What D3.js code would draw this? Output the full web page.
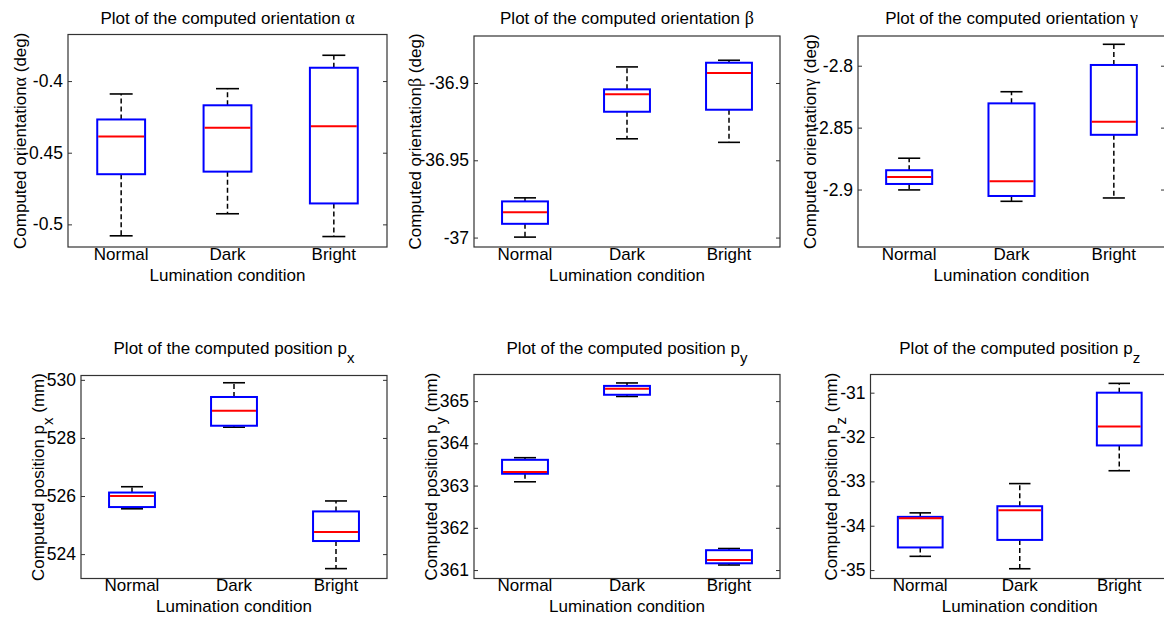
<!DOCTYPE html>
<html><head><meta charset="utf-8">
<script src="https://cdn.jsdelivr.net/npm/d3@7"></script>
<style>body{margin:0;background:#fff}svg{display:block}</style>
</head><body>
<svg id="chart" width="1164" height="617"></svg>
<script>
// ---------- DATA ----------
const categories = ["Normal", "Dark", "Bright"];
const xAxisLabel = "Lumination condition";

// [lower whisker, Q1, median, Q3, upper whisker] for Normal, Dark, Bright
const alphaStats = [[-0.508, -0.465, -0.4386, -0.4268, -0.409],
                    [-0.4926, -0.4632, -0.4326, -0.4169, -0.4053],
                    [-0.5085, -0.4854, -0.4315, -0.3907, -0.382]];
const betaStats  = [[-36.9997, -36.9911, -36.9837, -36.9766, -36.9743],
                    [-36.9361, -36.9186, -36.9073, -36.9041, -36.8896],
                    [-36.9384, -36.9173, -36.8935, -36.8869, -36.8853]];
const gammaStats = [[-2.9003, -2.8955, -2.8898, -2.8844, -2.8747],
                    [-2.9095, -2.9052, -2.8933, -2.8304, -2.821],
                    [-2.9068, -2.8558, -2.8453, -2.7994, -2.7827]];
const pxStats    = [[525.56, 525.62, 526.0, 526.12, 526.32],
                    [528.37, 528.42, 528.94, 529.41, 529.9],
                    [523.5, 524.45, 524.76, 525.47, 525.83]];
const pyStats    = [[363.09, 363.28, 363.32, 363.61, 363.66],
                    [365.11, 365.15, 365.29, 365.36, 365.43],
                    [361.12, 361.16, 361.24, 361.47, 361.51]];
const pzStats    = [[-34.69, -34.49, -33.83, -33.80, -33.71],
                    [-34.97, -34.32, -33.65, -33.56, -33.05],
                    [-32.76, -32.19, -31.76, -31.0, -30.79]];

// y-axis limits
const alphaLimits = [-0.5158, -0.3675];
const betaLimits  = [-37.0061, -36.8696];
const gammaLimits = [-2.9464, -2.776];
const pxLimits    = [523.16, 530.15];
const pyLimits    = [360.80, 365.63];
const pzLimits    = [-35.19, -30.59];

// tick values and labels
const alphaTicks = [-0.5, -0.45, -0.4];
const alphaTickLabels = ["-0.5", "-0.45", "-0.4"];
const betaTicks = [-37, -36.95, -36.9];
const betaTickLabels = ["-37", "-36.95", "-36.9"];
const gammaTicks = [-2.9, -2.85, -2.8];
const gammaTickLabels = ["-2.9", "-2.85", "-2.8"];
const pxTicks = [524, 526, 528, 530];
const pxTickLabels = ["524", "526", "528", "530"];
const pyTicks = [361, 362, 363, 364, 365];
const pyTickLabels = ["361", "362", "363", "364", "365"];
const pzTicks = [-35, -34, -33, -32, -31];
const pzTickLabels = ["-35", "-34", "-33", "-32", "-31"];

// titles / labels as text runs: [text, kind] kind: "n" normal, "g" greek, "s" subscript
const alphaTitle = [["Plot of the computed orientation ", "n"], ["α", "g"]];
const betaTitle  = [["Plot of the computed orientation ", "n"], ["β", "g"]];
const gammaTitle = [["Plot of the computed orientation ", "n"], ["γ", "g"]];
const pxTitle = [["Plot of the computed position p", "n"], ["x", "s"]];
const pyTitle = [["Plot of the computed position p", "n"], ["y", "s"]];
const pzTitle = [["Plot of the computed position p", "n"], ["z", "s"]];
const alphaYLabel = [["Computed orientation", "n"], ["α", "g"], [" (deg)", "n"]];
const betaYLabel  = [["Computed orientation", "n"], ["β", "g"], [" (deg)", "n"]];
const gammaYLabel = [["Computed orientation", "n"], ["γ", "g"], [" (deg)", "n"]];
const pxYLabel = [["Computed position p", "n"], ["x", "s"], [" (mm)", "n"]];
const pyYLabel = [["Computed position p", "n"], ["y", "s"], [" (mm)", "n"]];
const pzYLabel = [["Computed position p", "n"], ["z", "s"], [" (mm)", "n"]];

const panels = [
  {stats: alphaStats, limits: alphaLimits, ticks: alphaTicks, tickLabels: alphaTickLabels, title: alphaTitle, ylabel: alphaYLabel},
  {stats: betaStats, limits: betaLimits, ticks: betaTicks, tickLabels: betaTickLabels, title: betaTitle, ylabel: betaYLabel},
  {stats: gammaStats, limits: gammaLimits, ticks: gammaTicks, tickLabels: gammaTickLabels, title: gammaTitle, ylabel: gammaYLabel},
  {stats: pxStats, limits: pxLimits, ticks: pxTicks, tickLabels: pxTickLabels, title: pxTitle, ylabel: pxYLabel},
  {stats: pyStats, limits: pyLimits, ticks: pyTicks, tickLabels: pyTickLabels, title: pyTitle, ylabel: pyYLabel},
  {stats: pzStats, limits: pzLimits, ticks: pzTicks, tickLabels: pzTickLabels, title: pzTitle, ylabel: pzYLabel}
];

// ---------- LAYOUT ----------
const layout = [
  {left: 68,    top: 34.5, right: 387,  bottom: 247,   titleY: 24,  xTickY: 259.5, xLabY: 281,   yLabX: 26},
  {left: 474,   top: 36,   right: 780,  bottom: 247,   titleY: 24,  xTickY: 259.5, xLabY: 281,   yLabX: 420.5},
  {left: 858,   top: 36,   right: 1165, bottom: 247,   titleY: 24,  xTickY: 259.5, xLabY: 281,   yLabX: 815.5},
  {left: 81,    top: 375.5,right: 387,  bottom: 578.5, titleY: 354, xTickY: 591,   xLabY: 611.5, yLabX: 44},
  {left: 474,   top: 374.5,right: 780,  bottom: 578.5, titleY: 354, xTickY: 591,   xLabY: 611.5, yLabX: 437},
  {left: 870.5, top: 374.5,right: 1169, bottom: 578.5, titleY: 354, xTickY: 591,   xLabY: 611.5, yLabX: 837}
];

const FONT = "'Liberation Sans', Arial, sans-serif";
const GREEK_FONT = "'Liberation Serif', 'DejaVu Serif', serif";
const FS = 17;
const TICK_FS = 17.5;

const svg = d3.select("#chart");

function addRuns(textSel, runs) {
  let shifted = false;
  runs.forEach(([t, kind]) => {
    const ts = textSel.append("tspan").text(t);
    if (kind === "g") ts.attr("font-family", GREEK_FONT).attr("font-size", FS + 1);
    if (kind === "s") { ts.attr("dy", 9).attr("font-size", 15); shifted = true; }
    else if (shifted) { ts.attr("dy", -9); shifted = false; }
  });
}

panels.forEach((p, i) => {
  const L = layout[i];
  const g = svg.append("g");
  const x = d3.scalePoint().domain(categories).range([L.left, L.right]).padding(0.5);
  const y = d3.scaleLinear().domain(p.limits).range([L.bottom, L.top]);
  const step = x.step();
  const bw = step * 0.45;
  const cw = bw * 0.48;

  // left axis ticks & labels
  const axL = d3.axisLeft(y).tickValues(p.ticks)
    .tickFormat((d, k) => p.tickLabels[k]).tickSizeInner(-4).tickSizeOuter(0).tickPadding(5);
  const gl = g.append("g").attr("transform", `translate(${L.left},0)`).call(axL);
  gl.select(".domain").remove();
  gl.selectAll(".tick line").attr("stroke", "#333");
  gl.selectAll(".tick text").attr("font-family", FONT).attr("font-size", TICK_FS).attr("fill", "#000");

  const axR = d3.axisRight(y).tickValues(p.ticks).tickFormat("").tickSizeInner(-4).tickSizeOuter(0);
  const gr = g.append("g").attr("transform", `translate(${L.right},0)`).call(axR);
  gr.select(".domain").remove();
  gr.selectAll(".tick line").attr("stroke", "#333");

  // frame
  g.append("rect").attr("x", L.left).attr("y", L.top)
    .attr("width", L.right - L.left).attr("height", L.bottom - L.top)
    .attr("fill", "none").attr("stroke", "#333").attr("stroke-width", 1.2);

  // boxes
  const bx = g.selectAll(".bx").data(p.stats).join("g").attr("class", "bx");
  const cx = (d, k) => x(categories[k]);
  // whiskers
  bx.append("line").attr("x1", cx).attr("x2", cx)
    .attr("y1", d => y(d[3])).attr("y2", d => y(d[4]))
    .attr("stroke", "#000").attr("stroke-width", 1.5).attr("stroke-dasharray", "5,3");
  bx.append("line").attr("x1", cx).attr("x2", cx)
    .attr("y1", d => y(d[1])).attr("y2", d => y(d[0]))
    .attr("stroke", "#000").attr("stroke-width", 1.5).attr("stroke-dasharray", "5,3");
  // caps
  bx.append("line").attr("x1", (d, k) => cx(d, k) - cw / 2).attr("x2", (d, k) => cx(d, k) + cw / 2)
    .attr("y1", d => y(d[4])).attr("y2", d => y(d[4])).attr("stroke", "#000").attr("stroke-width", 1.6);
  bx.append("line").attr("x1", (d, k) => cx(d, k) - cw / 2).attr("x2", (d, k) => cx(d, k) + cw / 2)
    .attr("y1", d => y(d[0])).attr("y2", d => y(d[0])).attr("stroke", "#000").attr("stroke-width", 1.6);
  // box
  bx.append("rect").attr("x", (d, k) => cx(d, k) - bw / 2).attr("width", bw)
    .attr("y", d => y(d[3])).attr("height", d => y(d[1]) - y(d[3]))
    .attr("fill", "none").attr("stroke", "#0000ff").attr("stroke-width", 2);
  // median
  bx.append("line").attr("x1", (d, k) => cx(d, k) - bw / 2 + 1).attr("x2", (d, k) => cx(d, k) + bw / 2 - 1)
    .attr("y1", d => y(d[2])).attr("y2", d => y(d[2])).attr("stroke", "#ff0000").attr("stroke-width", 2);

  // category labels
  g.selectAll(".cat").data(categories).join("text").attr("class", "cat")
    .attr("x", d => x(d)).attr("y", L.xTickY).attr("text-anchor", "middle")
    .attr("font-family", FONT).attr("font-size", FS).text(d => d);

  // x label
  g.append("text").attr("x", (L.left + L.right) / 2).attr("y", L.xLabY).attr("text-anchor", "middle")
    .attr("font-family", FONT).attr("font-size", FS).text(xAxisLabel);

  // title
  const tt = g.append("text").attr("x", (L.left + L.right) / 2).attr("y", L.titleY).attr("text-anchor", "middle")
    .attr("font-family", FONT).attr("font-size", FS);
  addRuns(tt, p.title);

  // y label
  const yl = g.append("text").attr("transform", `translate(${L.yLabX},${(L.top + L.bottom) / 2}) rotate(-90)`)
    .attr("text-anchor", "middle").attr("font-family", FONT).attr("font-size", FS);
  addRuns(yl, p.ylabel);
});
</script>
</body></html>
